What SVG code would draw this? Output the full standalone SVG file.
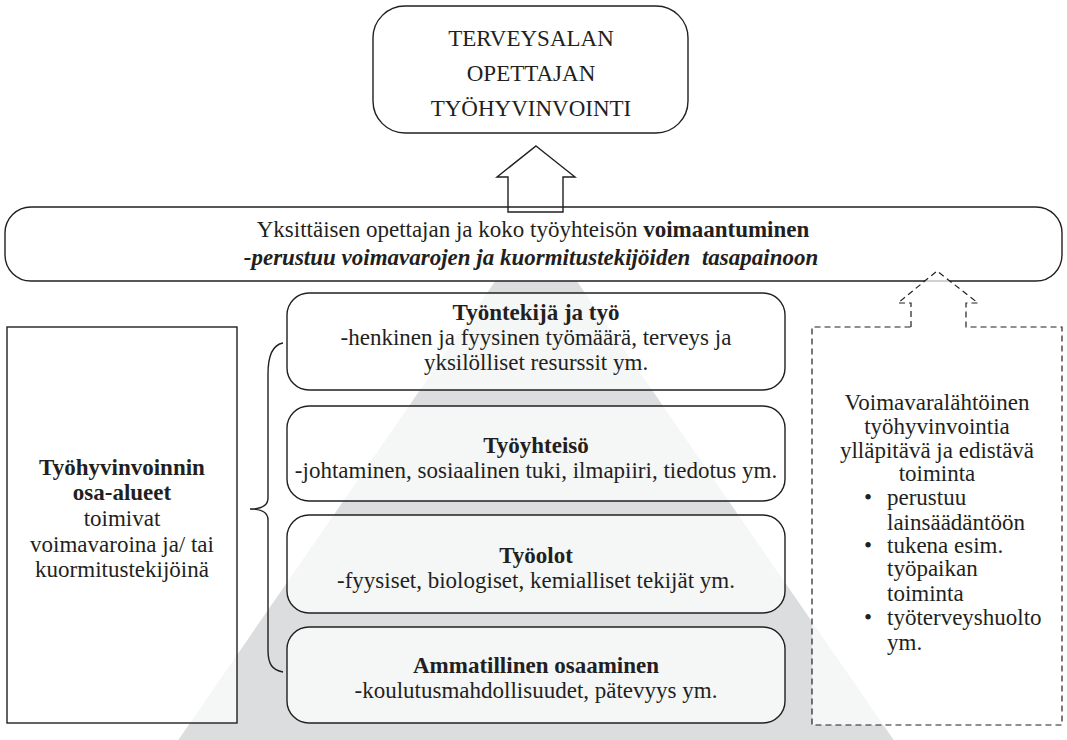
<svg xmlns="http://www.w3.org/2000/svg" width="1067" height="740" viewBox="0 0 1067 740">
<style>
text{font-family:'Liberation Serif','DejaVu Serif',serif;fill:#231f20;font-size:23px}
.c{text-anchor:middle}
.b{font-weight:bold}
.bi{font-weight:bold;font-style:italic}
.ln{fill:none;stroke:#231f20;stroke-width:1.4}
.bx{fill:#fff;fill-opacity:0.72;stroke:#231f20;stroke-width:1.4}
.ds{fill:#fff;fill-opacity:0.72;stroke:#231f20;stroke-width:1.2;stroke-dasharray:6 4}
</style>
<rect width="1067" height="740" fill="#fff"/>
<polygon id="pyramid" points="536,222 170,752 902,752" fill="#dcdddf"/>

<g id="top">
<rect x="373" y="6" width="315" height="127" rx="32" fill="#fff" stroke="#231f20" stroke-width="1.4"/>
<text class="c" x="531" y="46" font-size="24">TERVEYSALAN</text>
<text class="c" x="531" y="81" font-size="24">OPETTAJAN</text>
<text class="c" x="531" y="116" font-size="24">TYÖHYVINVOINTI</text>
</g>

<g id="empowerment">
<rect x="5" y="207" width="1057" height="74" rx="26" fill="#fff" stroke="#231f20" stroke-width="1.4"/>
<text class="c" x="533" y="237" font-size="21">Yksittäisen opettajan ja koko työyhteisön <tspan class="b">voimaantuminen</tspan></text>
<text class="c bi" x="531" y="265" font-size="20.5" style="white-space:pre">-perustuu voimavarojen ja kuormitustekijöiden  tasapainoon</text>
</g>

<g id="left">
<rect x="7" y="327" width="230" height="396" class="bx"/>
<text class="c b" x="122" y="475">Työhyvinvoinnin</text>
<text class="c b" x="122" y="500">osa-alueet</text>
<text class="c" x="122" y="526">toimivat</text>
<text class="c" x="122" y="552">voimavaroina ja/ tai</text>
<text class="c" x="122" y="577">kuormitustekijöinä</text>
</g>

<g id="box1">
<rect x="287" y="293" width="498" height="97" rx="22" class="bx"/>
<text class="c b" x="536" y="320">Työntekijä ja työ</text>
<text class="c" x="536" y="345">-henkinen ja fyysinen työmäärä, terveys ja</text>
<text class="c" x="536" y="370">yksilölliset resurssit ym.</text>
</g>
<g id="box2">
<rect x="287" y="406" width="498" height="95" rx="22" class="bx"/>
<text class="c b" x="536" y="453">Työyhteisö</text>
<text class="c" x="536" y="478">-johtaminen, sosiaalinen tuki, ilmapiiri, tiedotus ym.</text>
</g>
<g id="box3">
<rect x="287" y="515" width="498" height="98" rx="22" class="bx"/>
<text class="c b" x="536" y="563">Työolot</text>
<text class="c" x="536" y="588">-fyysiset, biologiset, kemialliset tekijät ym.</text>
</g>
<g id="box4">
<rect x="287" y="627" width="498" height="96" rx="22" class="bx"/>
<text class="c b" x="536" y="673">Ammatillinen osaaminen</text>
<text class="c" x="536" y="698">-koulutusmahdollisuudet, pätevyys ym.</text>
</g>

<g id="right">
<path class="ds" d="M911,327 L911,303 L898,303 L937,271 L978,303 L966,303 L966,327 L1062,327 L1062,725 L812,725 L812,327 Z"/>
<text class="c" x="937" y="410">Voimavaralähtöinen</text>
<text class="c" x="937" y="434">työhyvinvointia</text>
<text class="c" x="937" y="458">ylläpitävä ja edistävä</text>
<text class="c" x="937" y="481">toiminta</text>
<text x="864" y="505">•</text><text x="887" y="505">perustuu</text>
<text x="887" y="530">lainsäädäntöön</text>
<text x="864" y="553">•</text><text x="887" y="553">tukena esim.</text>
<text x="887" y="576">työpaikan</text>
<text x="887" y="601">toiminta</text>
<text x="864" y="625">•</text><text x="887" y="625">työterveyshuolto</text>
<text x="887" y="650">ym.</text>
</g>

<g id="connectors">
<polygon class="ln" points="536,146 575,177 563,177 563,212 508,212 508,177 497,177"/>
<path class="ln" d="M283,343 C272,345 268,356 268,374 L268,498 C268,505 262,509 250,509 C262,509 268,513 268,520 L268,650 C268,664 272,670 283,672"/>
</g>
</svg>
